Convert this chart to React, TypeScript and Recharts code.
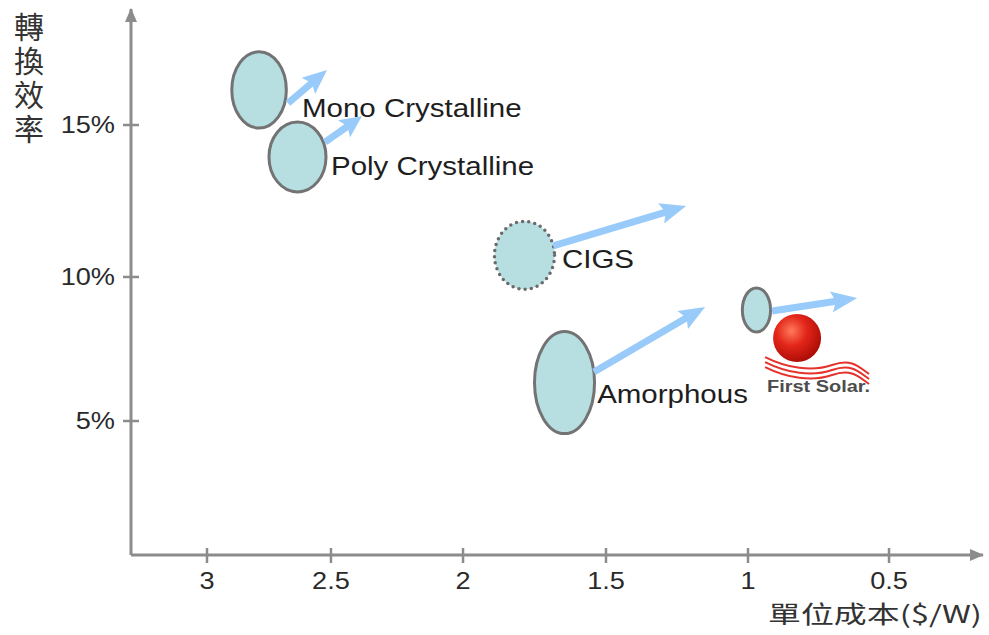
import React from 'react';
import { ScatterChart, Scatter, XAxis, YAxis, ReferenceArea, ReferenceLine } from 'recharts';

// ---------- data ----------
const technologies = ['Mono Crystalline', 'Poly Crystalline', 'CIGS', 'Amorphous', 'First Solar'];
// cost range ($/W) and efficiency range (%) covered by each technology bubble
const costLow = [2.68, 2.52, 1.68, 1.54, 0.92];
const costHigh = [2.9, 2.75, 1.89, 1.75, 1.02];
const effLow = [14.9, 12.8, 9.57, 4.53, 8.09];
const effHigh = [17.4, 15.1, 11.83, 8.11, 9.62];
// trend arrows (from -> to), in cost / efficiency units
const arrowFromCost = [2.673, 2.524, 1.685, 1.542, 0.915];
const arrowFromEff = [15.72, 14.44, 11.02, 6.7, 8.82];
const arrowToCost = [2.516, 2.383, 1.218, 1.151, 0.613];
const arrowToEff = [16.8, 15.29, 12.34, 8.96, 9.27];
// text label anchors (left / middle of the text), in cost / efficiency units
const labelNames = ['Mono Crystalline', 'Poly Crystalline', 'CIGS', 'Amorphous'];
const labelCost = [2.617, 2.5, 1.654, 1.531];
const labelEff = [15.56, 13.65, 10.59, 5.94];
// First Solar logo
const logoName = 'First Solar.';
const logoCost = [0.826];
const logoEff = [7.88];

const xTicks = [3, 2.5, 2, 1.5, 1, 0.5];
const yTicks = [5, 10, 15];
const xDomain = [0.17, 3.3];
const yDomain = [0, 18.8];
const xAxisTitle = '單位成本($/W)';
const yAxisTitle = '轉換效率';

// the original axes are drawn with uneven tick spacing: [value, share of axis length]
const xScaleStops: [number, number][] = [
  [0.17, 1], [0.5, 0.8897], [1, 0.7242], [1.5, 0.5575], [2, 0.3897], [2.5, 0.2347], [3, 0.0892], [3.3, 0],
];
const yScaleStops: [number, number][] = [
  [0, 0], [5, 0.2454], [10, 0.5092], [15, 0.7875], [18.8, 1],
];

// ---------- a piecewise-linear d3-like scale ----------
function makeStopScale(stops: [number, number][]): any {
  const sorted = stops.slice().sort((a, b) => a[0] - b[0]);
  let dom: number[] = [sorted[0][0], sorted[sorted.length - 1][0]];
  let rng: number[] = [0, 1];
  const frac = (v: number) => {
    let i = 0;
    while (i < sorted.length - 2 && v > sorted[i + 1][0]) i++;
    const [v0, f0] = sorted[i];
    const [v1, f1] = sorted[i + 1];
    return f0 + ((v - v0) * (f1 - f0)) / (v1 - v0);
  };
  const scale: any = (v: any) => rng[0] + frac(Number(v)) * (rng[1] - rng[0]);
  scale.domain = (d?: any) => {
    if (d === undefined) return dom.slice();
    dom = Array.from(d) as number[];
    return scale;
  };
  scale.range = (r?: any) => {
    if (r === undefined) return rng.slice();
    rng = Array.from(r) as number[];
    return scale;
  };
  scale.copy = () => makeStopScale(stops).domain(dom).range(rng);
  scale.ticks = () => sorted.map((s) => s[0]);
  scale.tickFormat = () => (v: any) => String(v);
  scale.nice = () => scale;
  scale.invert = (p: number) => {
    const f = (p - rng[0]) / (rng[1] - rng[0]);
    for (let i = 0; i < sorted.length - 1; i++) {
      const [v0, f0] = sorted[i];
      const [v1, f1] = sorted[i + 1];
      if ((f - f0) * (f - f1) <= 0) return v0 + ((f - f0) * (v1 - v0)) / (f1 - f0);
    }
    return sorted[0][0];
  };
  return scale;
}

const xScale = makeStopScale(xScaleStops);
const yScale = makeStopScale(yScaleStops);

// ---------- styles ----------
const AXIS = '#8c8c8c';
const LATIN = "'Liberation Sans', Arial, Helvetica, sans-serif";
const CJK = "'Noto Sans CJK TC', 'Noto Sans CJK SC', sans-serif";
const STRETCH = 1.18;

const labelPoints = labelNames.map((n, i) => ({ x: labelCost[i], y: labelEff[i], name: n }));
const logoPoints = logoCost.map((c, i) => ({ x: c, y: logoEff[i], name: logoName }));

const XTick = (props: any) => {
  const { x, y, payload } = props;
  const axisY = y - 8;
  return (
    <g>
      <line x1={x} x2={x} y1={axisY - 7} y2={axisY + 8} stroke={AXIS} strokeWidth={2.5} />
      <text
        transform={`translate(${x},${axisY + 34}) scale(${STRETCH},1)`}
        textAnchor="middle"
        fontFamily={LATIN}
        fontSize={23}
        fill="#2a2a2a"
      >
        {String(payload.value)}
      </text>
    </g>
  );
};

const YTick = (props: any) => {
  const { x, y, payload } = props;
  const axisX = x + 16;
  return (
    <g>
      <line x1={axisX - 8} x2={axisX + 8} y1={y} y2={y} stroke={AXIS} strokeWidth={2.5} />
      <text
        transform={`translate(${x},${y + 8}) scale(${STRETCH},1)`}
        textAnchor="end"
        fontFamily={LATIN}
        fontSize={23}
        fill="#2a2a2a"
      >
        {`${payload.value}%`}
      </text>
    </g>
  );
};

const YTitle = (props: any) => {
  const vb = props.viewBox || { x: 11, y: 9 };
  const cx = vb.x + 18;
  return (
    <text
      x={cx}
      y={vb.y + 3}
      style={{ writingMode: 'vertical-rl' } as any}
      letterSpacing={4}
      fontFamily={CJK}
      fontSize={30}
      fill="#333"
    >
      {yAxisTitle}
    </text>
  );
};

const XTitle = (props: any) => {
  const vb = props.viewBox || { x: 131, y: 555, width: 852 };
  const right = vb.x + vb.width - 1;
  return (
    <text
      x={right - 214}
      y={vb.y + 68}
      textLength={214}
      lengthAdjust="spacingAndGlyphs"
      fontFamily={CJK}
      fontSize={24}
      fill="#333"
    >
      {xAxisTitle}
    </text>
  );
};

const makeBubble = (dotted: boolean) => (props: any) => {
  const { x, y, width, height } = props;
  return (
    <ellipse
      cx={x + width / 2}
      cy={y + height / 2}
      rx={Math.abs(width) / 2}
      ry={Math.abs(height) / 2}
      fill="#b7dfe2"
      stroke={dotted ? '#6a6a6a' : '#737373'}
      strokeWidth={dotted ? 3.5 : 3}
      strokeDasharray={dotted ? '0 6.2' : undefined}
      strokeLinecap={dotted ? 'round' : undefined}
    />
  );
};

const ArrowShape = (props: any) => {
  const { x1, y1, x2, y2 } = props;
  const dx = x2 - x1;
  const dy = y2 - y1;
  const len = Math.hypot(dx, dy) || 1;
  const ux = dx / len;
  const uy = dy / len;
  const nx = -uy;
  const ny = ux;
  const head = Math.min(23, len * 0.42);
  const hw = 10.5;
  const sw = 3.5;
  const bx = x2 - ux * head;
  const by = y2 - uy * head;
  const pts = [
    [x1 + nx * sw, y1 + ny * sw],
    [bx + nx * sw, by + ny * sw],
    [bx + nx * hw - ux * 3, by + ny * hw - uy * 3],
    [x2, y2],
    [bx - nx * hw - ux * 3, by - ny * hw - uy * 3],
    [bx - nx * sw, by - ny * sw],
    [x1 - nx * sw, y1 - ny * sw],
  ]
    .map((p) => `${p[0].toFixed(1)},${p[1].toFixed(1)}`)
    .join(' ');
  return <polygon points={pts} fill="#99cbfa" />;
};

const LabelShape = (props: any) => {
  const { cx, cy, payload } = props;
  return (
    <text
      transform={`translate(${cx},${cy + 9}) scale(${STRETCH},1)`}
      fontFamily={LATIN}
      fontSize={25}
      fill="#1e1e1e"
    >
      {payload.name}
    </text>
  );
};

const LogoShape = (props: any) => {
  const { cx, cy, payload } = props;
  const wave = (o: number) =>
    `M${cx - 32},${cy + 19 + o} C${cx - 10},${cy + 30 + o} ${cx + 15},${cy + 34 + o} ${cx + 35},${cy + 27 + o} S${cx + 62},${cy + 29 + o} ${cx + 72},${cy + 36 + o}`;
  return (
    <g>
      <defs>
        <radialGradient id="fsSphere" cx="0.38" cy="0.35" r="0.7">
          <stop offset="0" stopColor="#ff7a5c" />
          <stop offset="0.45" stopColor="#e3261a" />
          <stop offset="1" stopColor="#a80a04" />
        </radialGradient>
      </defs>
      <circle cx={cx} cy={cy} r={24} fill="url(#fsSphere)" />
      {[0, 5, 10].map((o) => (
        <path key={o} d={wave(o)} fill="none" stroke="#e5332b" strokeWidth={2} />
      ))}
      <text
        x={cx - 30}
        y={cy + 54}
        textLength={103}
        lengthAdjust="spacingAndGlyphs"
        fontFamily={LATIN}
        fontWeight="bold"
        fontSize={17}
        fill="#4d4d4d"
      >
        {payload.name}
      </text>
    </g>
  );
};

export default function App() {
  return (
    <div style={{ position: 'absolute', left: 0, top: 0, width: 989, height: 635, background: '#ffffff' }}>
      <svg width={0} height={0} style={{ position: 'absolute' }}>
        <defs>
          <marker
            id="axisArrowHead"
            markerUnits="userSpaceOnUse"
            markerWidth={14}
            markerHeight={12}
            refX={13}
            refY={6}
            orient="auto-start-reverse"
          >
            <path d="M0,0 L14,6 L0,12 Z" fill={AXIS} />
          </marker>
        </defs>
      </svg>
      <ScatterChart width={989} height={635} margin={{ top: 9, right: 6, bottom: 40, left: 11 }}>
        <XAxis
          type="number"
          dataKey="x"
          domain={xDomain}
          allowDataOverflow
          scale={xScale}
          ticks={xTicks}
          interval={0}
          height={40}
          tickSize={8}
          tickMargin={0}
          tickLine={false}
          tick={<XTick />}
          axisLine={{ stroke: AXIS, strokeWidth: 3, markerEnd: 'url(#axisArrowHead)' }}
          label={{ content: (p: any) => <XTitle {...p} /> }}
        />
        <YAxis
          type="number"
          dataKey="y"
          domain={yDomain}
          allowDataOverflow
          scale={yScale}
          ticks={yTicks}
          interval={0}
          width={120}
          tickSize={8}
          tickMargin={8}
          tickLine={false}
          tick={<YTick />}
          axisLine={{ stroke: AXIS, strokeWidth: 3, markerStart: 'url(#axisArrowHead)' }}
          label={{ content: (p: any) => <YTitle {...p} /> }}
        />
        {technologies.map((t, i) => (
          <ReferenceArea
            key={`area-${t}`}
            x1={costHigh[i]}
            x2={costLow[i]}
            y1={effLow[i]}
            y2={effHigh[i]}
            ifOverflow="visible"
            shape={makeBubble(t === 'CIGS')}
          />
        ))}
        {technologies.map((t, i) => (
          <ReferenceLine
            key={`arrow-${t}`}
            segment={[
              { x: arrowFromCost[i], y: arrowFromEff[i] },
              { x: arrowToCost[i], y: arrowToEff[i] },
            ]}
            ifOverflow="visible"
            shape={ArrowShape}
          />
        ))}
        <Scatter data={labelPoints} isAnimationActive={false} shape={LabelShape} />
        <Scatter data={logoPoints} isAnimationActive={false} shape={LogoShape} />
      </ScatterChart>
    </div>
  );
}
